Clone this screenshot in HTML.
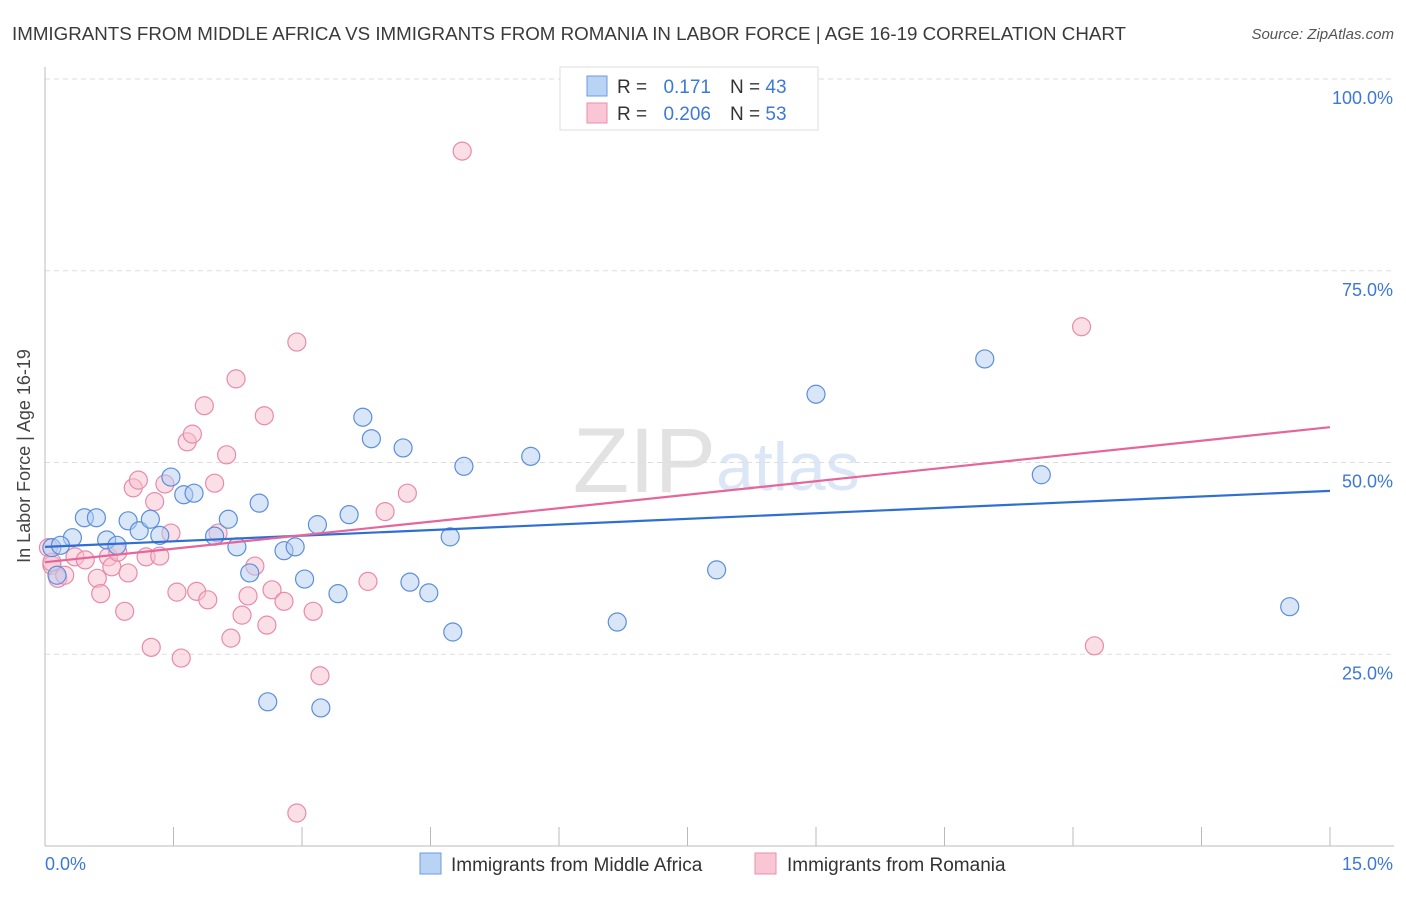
<!DOCTYPE html>
<html><head><meta charset="utf-8"><style>
body{margin:0;background:#fff;font-family:"Liberation Sans",sans-serif;}
svg text{font-family:"Liberation Sans",sans-serif;}
</style></head><body>
<svg id="chart" width="1406" height="892">
<text x="12" y="40" font-size="18" fill="#3a3a3a" textLength="1114" lengthAdjust="spacingAndGlyphs">IMMIGRANTS FROM MIDDLE AFRICA VS IMMIGRANTS FROM ROMANIA IN LABOR FORCE | AGE 16-19 CORRELATION CHART</text>
<text x="1394" y="39" font-size="15" fill="#555" text-anchor="end" font-style="italic">Source: ZipAtlas.com</text>
<text x="30" y="456" font-size="18" fill="#444" text-anchor="middle" transform="rotate(-90 30 456)">In Labor Force | Age 16-19</text>
<text x="716" y="492" font-size="92" fill="#e2e2e2" text-anchor="end" font-family="Liberation Serif">ZIP</text>
<text x="716" y="490" font-size="68" fill="#dbe6f6">atlas</text>
<g id="grid"></g><g id="axes"></g><g id="pts"></g><g id="lines"></g>
<g>
<rect x="560" y="67" width="258" height="63" fill="#fff" stroke="#ddd"/>
<rect x="587" y="76" width="20" height="20" fill="#b9d3f5" stroke="#6a9be0"/>
<rect x="587" y="103" width="20" height="20" fill="#f9c6d6" stroke="#ea8fad"/>
<text x="617" y="93" font-size="19" fill="#333">R =</text>
<text x="711" y="93" font-size="19" fill="#3d78d8" text-anchor="end">0.171</text>
<text x="730" y="93" font-size="19" fill="#333">N = <tspan fill="#3d78d8">43</tspan></text>
<text x="617" y="120" font-size="19" fill="#333">R =</text>
<text x="711" y="120" font-size="19" fill="#3d78d8" text-anchor="end">0.206</text>
<text x="730" y="120" font-size="19" fill="#333">N = <tspan fill="#3d78d8">53</tspan></text>
</g>
<g>
<rect x="420" y="853" width="21" height="21" fill="#b9d3f5" stroke="#6a9be0"/>
<text x="451" y="871" font-size="19" fill="#333">Immigrants from Middle Africa</text>
<rect x="755" y="853" width="21" height="21" fill="#f9c6d6" stroke="#ea8fad"/>
<text x="787" y="871" font-size="19" fill="#333">Immigrants from Romania</text>
</g>
</svg>
<script>
const blueX=[0.08,0.14,0.32,0.46,0.60,0.72,0.84,0.97,1.10,1.23,1.34,1.47,1.62,1.74,1.98,2.14,2.24,2.39,2.50,2.60,2.79,2.92,3.03,3.18,3.22,3.42,3.55,3.71,3.81,4.18,4.26,4.48,4.73,4.76,4.89,5.67,6.68,7.84,9.00,10.97,11.63,14.53,0.18];
const blueY=[38.9,35.3,40.2,42.8,42.8,39.9,39.2,42.4,41.1,42.6,40.5,48.1,45.8,46.0,40.4,42.6,39.0,35.6,44.7,18.8,38.5,39.0,34.8,41.9,18.0,32.9,43.2,55.9,53.1,51.9,34.4,33.0,40.3,27.9,49.5,50.8,29.2,36.0,58.9,63.5,48.4,31.2,39.2];
const pinkX=[0.04,0.08,0.15,0.23,0.35,0.47,0.61,0.65,0.74,0.78,0.85,0.93,0.97,1.03,1.09,1.18,1.24,1.28,1.34,1.40,1.47,1.54,1.59,1.66,1.72,1.77,1.86,1.90,1.98,2.02,2.12,2.17,2.23,2.30,2.37,2.45,2.56,2.59,2.65,2.79,2.94,3.13,3.21,2.94,3.77,3.97,4.23,4.87,12.10,12.25,0.08];
const pinkY=[38.9,36.6,34.9,35.3,37.7,37.3,34.9,32.9,37.7,36.4,38.3,30.6,35.6,46.7,47.7,37.7,25.9,44.9,37.8,47.2,40.8,33.1,24.5,52.7,53.7,33.2,57.4,32.1,47.3,40.8,51.0,27.1,60.9,30.1,32.6,36.5,56.1,28.8,33.4,31.9,65.7,30.6,22.2,4.3,34.5,43.6,46.0,90.6,67.7,26.1,37.0];
const blueTrend=[39.0,46.3];
const pinkTrend=[37.0,54.6];
const yTicks=[25,50,75,100];
const yTickLabels=["25.0%","50.0%","75.0%","100.0%"];
const xTicks=[0,1.5,3,4.5,6,7.5,9,10.5,12,13.5,15];
const NS='http://www.w3.org/2000/svg';
const X=v=>45+v/15*1285, Y=v=>846-v*7.67;
function mk(tag,attrs,parent){const e=document.createElementNS(NS,tag);for(const k in attrs)e.setAttribute(k,attrs[k]);parent.appendChild(e);return e;}
const grid=document.getElementById('grid'),axes=document.getElementById('axes'),pts=document.getElementById('pts'),lines=document.getElementById('lines');
yTicks.forEach((t,i)=>{
 const l=mk('line',{x1:45,x2:1394,y1:Y(t),y2:Y(t),stroke:'#ddd','stroke-dasharray':'5,4'},grid);
 
 
 const tx=mk('text',{x:1393,y:Y(t)+25,'font-size':18,fill:'#3d78d8','text-anchor':'end'},axes);
 tx.textContent=yTickLabels[i];
 
 
});
const ax=mk('line',{x1:45,x2:45,y1:67,y2:846,stroke:'#bbb'},axes);


const bx=mk('line',{x1:45,x2:1394,y1:846,y2:846,stroke:'#bbb'},axes);


xTicks.forEach(t=>{
 const l=mk('line',{x1:X(t),x2:X(t),y1:827,y2:846,stroke:'#bbb'},axes);
 
 
});
const x0=mk('text',{x:45,y:870,'font-size':18,fill:'#3d78d8'},axes);x0.textContent='0.0%';


const x1=mk('text',{x:1393,y:870,'font-size':18,fill:'#3d78d8','text-anchor':'end'},axes);x1.textContent='15.0%';


function dots(xs,ys,fill,stroke,name){xs.forEach((x,i)=>{
 const c=mk('circle',{cx:X(x),cy:Y(ys[i]),r:9,fill:fill,'fill-opacity':0.5,stroke:stroke,'stroke-width':1.2},pts);
 
 
});}
dots(pinkX,pinkY,'#f7bfd0','#e98aaa','point-romania');
dots(blueX,blueY,'#b3cef2','#5a8fdb','point-middle-africa');
const bl=mk('line',{x1:X(0),y1:Y(blueTrend[0]),x2:X(15),y2:Y(blueTrend[1]),stroke:'#2f6fd3','stroke-width':2.2},lines);


const pl=mk('line',{x1:X(0),y1:Y(pinkTrend[0]),x2:X(15),y2:Y(pinkTrend[1]),stroke:'#e5669a','stroke-width':2.2},lines);


</script>
</body></html>
